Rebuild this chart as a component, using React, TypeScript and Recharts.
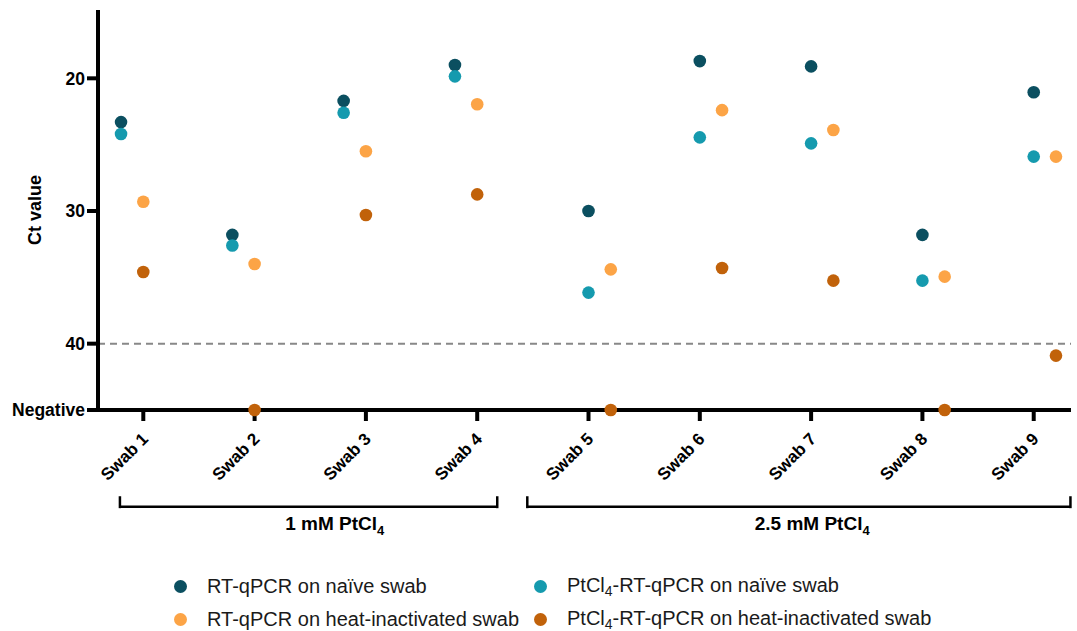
import {
  ScatterChart,
  Scatter,
  XAxis,
  YAxis,
  ReferenceLine,
  ReferenceDot,
  Legend
} from "recharts";

const FONT = "'Liberation Sans', Arial, Helvetica, sans-serif";

// "Negative" is drawn at Ct 45 on the axis
const NEG = 45;

const swabs = ["Swab 1", "Swab 2", "Swab 3", "Swab 4", "Swab 5", "Swab 6", "Swab 7", "Swab 8", "Swab 9"];
const rtNaive = [23.3, 31.8, 21.7, 19.0, 30.0, 18.7, 19.1, 31.8, 21.05];
const ptNaive = [24.2, 32.6, 22.6, 19.85, 36.15, 24.45, 24.9, 35.25, 25.9];
const rtHeat = [29.3, 34.0, 25.5, 21.95, 34.4, 22.4, 23.9, 34.95, 25.9];
const ptHeat = [34.6, NEG, 30.3, 28.75, NEG, 34.3, 35.25, NEG, 40.9];
const yTicks = [20, 30, 40, NEG];

// horizontal placement of the naive pair relative to each swab tick
const naiveShift = [-0.2, -0.2, -0.2, -0.2, 0, 0, 0, 0, 0];
const heatGap = 0.2;

const groups = [
  { conc: "1 mM", from: 0.79, to: 4.18, mid: 2.72 },
  { conc: "2.5 mM", from: 4.45, to: 9.33, mid: 7.01 }
];

const series = [
  { name: "RT-qPCR on naïve swab", values: rtNaive, heat: false, color: "#0b4f60" },
  { name: "PtCl4-RT-qPCR on naïve swab", values: ptNaive, heat: false, color: "#159aae" },
  { name: "RT-qPCR on heat-inactivated swab", values: rtHeat, heat: true, color: "#fca446" },
  { name: "PtCl4-RT-qPCR on heat-inactivated swab", values: ptHeat, heat: true, color: "#c1620a" }
];

const toPoints = (values: number[], heat: boolean) =>
  values.map((v, i) => ({
    swab: swabs[i],
    x: i + 1 + naiveShift[i] + (heat ? heatGap : 0),
    y: v
  }));

const SwabTick = (props: any) => {
  const { x, y, payload } = props;
  const ax = x + 6;
  const ay = y + 19;
  return (
    <text
      x={ax}
      y={ay}
      transform={`rotate(-45, ${ax}, ${ay})`}
      textAnchor="end"
      fill="#000"
      fontSize={17}
      fontWeight={700}
      fontFamily={FONT}
    >
      {swabs[payload.value - 1]}
    </text>
  );
};

const PtName = ({ name }: { name: string }) => {
  if (!name.startsWith("PtCl4")) return <span>{name}</span>;
  return (
    <span>
      PtCl<sub style={{ fontSize: "0.7em", verticalAlign: "-0.25em" }}>4</sub>
      {name.slice(5)}
    </span>
  );
};

const LegendGrid = () => (
  <div
    style={{
      display: "grid",
      gridTemplateColumns: "360px 420px",
      fontFamily: FONT,
      fontSize: 20,
      color: "#1a1a1a"
    }}
  >
    {series.map((s) => (
      <div key={s.name} style={{ display: "flex", alignItems: "center", height: 33 }}>
        <span
          style={{
            width: 13,
            height: 13,
            borderRadius: "50%",
            background: s.color,
            marginLeft: 14,
            marginRight: 20,
            display: "inline-block"
          }}
        />
        <PtName name={s.name} />
      </div>
    ))}
  </div>
);

const App = () => {
  return (
    <div style={{ position: "absolute", left: 0, top: 0, background: "#fff" }}>
      <ScatterChart
        width={1077}
        height={631}
        margin={{ top: 10, right: 6, bottom: 191, left: 0 }}
      >
        <XAxis
          type="number"
          dataKey="x"
          domain={[0.593, 9.335]}
          ticks={[1, 2, 3, 4, 5, 6, 7, 8, 9]}
          interval={0}
          height={30}
          tickSize={11}
          tickMargin={0}
          axisLine={{ stroke: "#000", strokeWidth: 4 }}
          tickLine={{ stroke: "#000", strokeWidth: 4 }}
          tick={<SwabTick />}
        />
        <YAxis
          type="number"
          dataKey="y"
          domain={[14.85, 45]}
          reversed
          ticks={yTicks}
          interval={0}
          width={98}
          tickSize={11}
          tickMargin={2}
          tickFormatter={(v: number) => (v === NEG ? "Negative" : String(v))}
          axisLine={{ stroke: "#000", strokeWidth: 4 }}
          tickLine={{ stroke: "#000", strokeWidth: 4 }}
          tick={{ fill: "#000", fontSize: 17.5, fontWeight: 700, fontFamily: FONT }}
          label={{
            value: "Ct value",
            angle: -90,
            position: "insideLeft",
            offset: 35,
            style: { textAnchor: "middle", fill: "#000", fontSize: 18, fontWeight: 700, fontFamily: FONT }
          }}
        />
        <ReferenceLine y={40} stroke="#888" strokeWidth={2} strokeDasharray="7 5" />
        {groups.map((g) => (
          <ReferenceLine
            key={g.conc + "h"}
            segment={[{ x: g.from, y: 52.3 }, { x: g.to, y: 52.3 }]}
            stroke="#000"
            strokeWidth={2.5}
            ifOverflow="visible"
          />
        ))}
        {groups.map((g) => (
          <ReferenceLine
            key={g.conc + "l"}
            segment={[{ x: g.from, y: 51.5 }, { x: g.from, y: 52.4 }]}
            stroke="#000"
            strokeWidth={2.5}
            ifOverflow="visible"
          />
        ))}
        {groups.map((g) => (
          <ReferenceLine
            key={g.conc + "r"}
            segment={[{ x: g.to, y: 51.5 }, { x: g.to, y: 52.4 }]}
            stroke="#000"
            strokeWidth={2.5}
            ifOverflow="visible"
          />
        ))}
        {groups.map((g) => (
          <ReferenceDot
            key={g.conc + "t"}
            x={g.mid}
            y={54.04}
            ifOverflow="visible"
            shape={(p: any) => (
              <text
                x={p.cx}
                y={p.cy}
                textAnchor="middle"
                fill="#000"
                fontSize={19}
                fontWeight={700}
                fontFamily={FONT}
              >
                {g.conc} PtCl
                <tspan fontSize={13} dy={5}>4</tspan>
              </text>
            )}
          />
        ))}
        {series.map((s) => (
          <Scatter
            key={s.name}
            name={s.name}
            data={toPoints(s.values, s.heat)}
            fill={s.color}
            isAnimationActive={false}
            shape={(p: any) => <circle cx={p.cx} cy={p.cy} r={6.3} fill={s.color} />}
          />
        ))}
        <Legend
          layout="horizontal"
          verticalAlign="middle"
          align="center"
          wrapperStyle={{ position: "absolute", left: 160, top: 570, width: 820 }}
          content={() => <LegendGrid />}
        />
      </ScatterChart>
    </div>
  );
};

export default App;
